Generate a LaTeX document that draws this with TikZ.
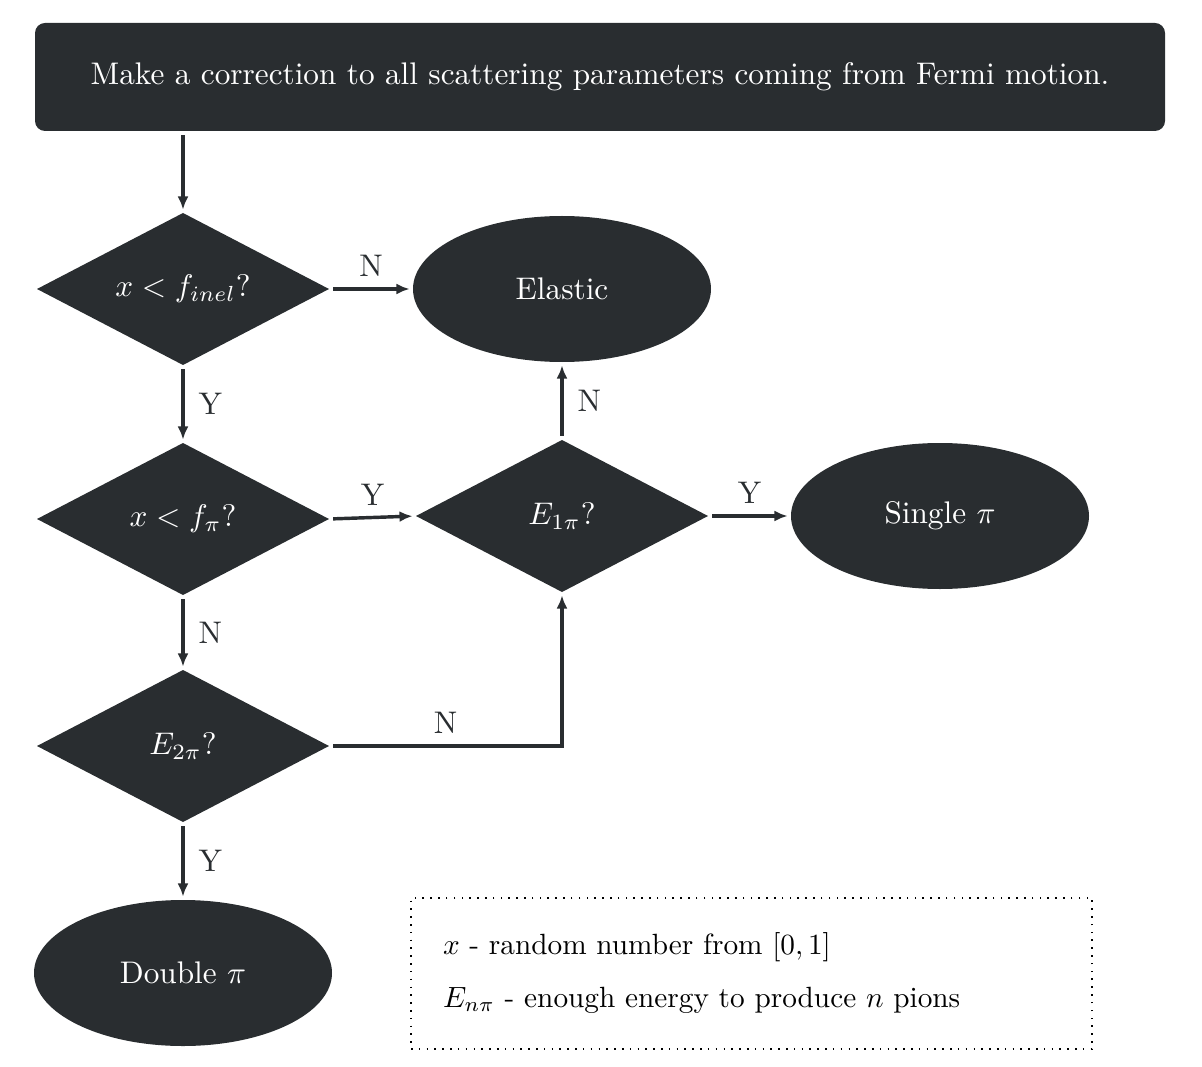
\documentclass[tikz,border=0pt]{standalone}
\usetikzlibrary{shapes.geometric,arrows.meta}
\definecolor{dk}{HTML}{292D30}
\def\u{0.32pt}
\begin{document}
\begin{tikzpicture}[x=0.32pt,y=-0.32pt,
  every node/.style={inner sep=0pt,outer sep=0pt},
  topbox/.style={fill=dk,text=white,rounded corners=3.2pt,minimum width=1130*\u,minimum height=108*\u},
  dia/.style={diamond,fill=dk,text=white,aspect=1.9,minimum width=292*\u,minimum height=152*\u},
  ell/.style={ellipse,fill=dk,text=white,minimum width=298*\u,minimum height=146*\u},
  conn/.style={draw=dk,line width=1.1pt,-{Latex[length=4.2pt,width=3.5pt]},shorten <=1.3pt,shorten >=1.1pt},
  lbl/.style={text=dk},
  legtext/.style={anchor=west,scale=0.937,transform shape},
  legendbox/.style={draw=black,dotted,line width=0.5pt,minimum width=681*\u,minimum height=151*\u}
]
\useasboundingbox (0,0) rectangle (1202,1067);
\node[topbox] (top) at (600,77) {Make a correction to all scattering parameters coming from Fermi motion.};
\node[dia] (d1) at (183,289) {$x<f_{inel}$?};
\node[ell] (el) at (562,289) {Elastic};
\node[dia] (d2) at (183,519) {$x<f_{\pi}$?};
\node[dia] (e1) at (562,516) {$E_{1\pi}$?};
\node[ell] (sp) at (940,516) {Single $\pi$};
\node[dia] (e2) at (183,746) {$E_{2\pi}$?};
\node[ell] (dp) at (183,973) {Double $\pi$};
\node[legendbox] (leg) at (751.5,973.5) {};
\node[legtext] (l1) at (443,947) {$x$ - random number from $[0,1]$};
\node[legtext] (l2) at (443,1000) {$E_{n\pi}$ - enough energy to produce $n$ pions};

\draw[conn] (top.south -| d1.north) -- (d1.north);
\draw[conn] (d1.east) -- node[lbl,above=4pt] {N} (el.west);
\draw[conn] (d1.south) -- node[lbl,right=5pt] {Y} (d2.north);
\draw[conn] (d2.east) -- node[lbl,above=4pt] {Y} (e1.west);
\draw[conn] (e1.north) -- node[lbl,right=5pt] {N} (el.south);
\draw[conn] (e1.east) -- node[lbl,above=4pt] {Y} (sp.west);
\draw[conn] (d2.south) -- node[lbl,right=5pt] {N} (e2.north);
\draw[conn] (e2.east) -- node[lbl,above=4pt,pos=0.5] {N} (e2.east -| e1.south) -- (e1.south);
\draw[conn] (e2.south) -- node[lbl,right=5pt] {Y} (dp.north);
\end{tikzpicture}
\end{document}
